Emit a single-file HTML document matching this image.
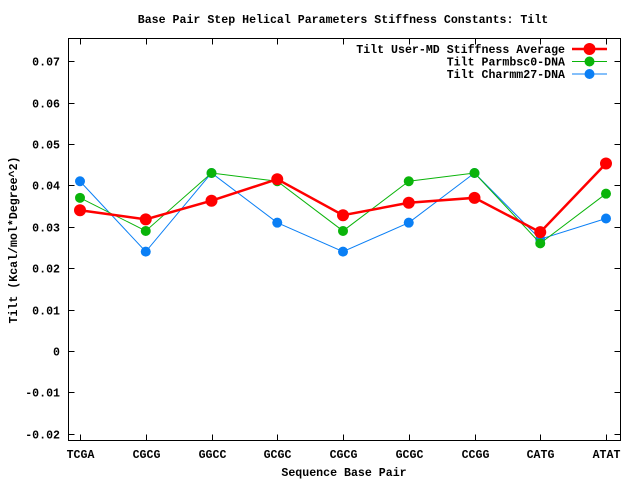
<!DOCTYPE html>
<html><head><meta charset="utf-8"><style>
body{margin:0;background:#fff}
svg text{font-family:"Liberation Mono",monospace;font-weight:bold;font-size:11.6px;fill:#000}
</style></head><body>
<svg width="640" height="480" xmlns="http://www.w3.org/2000/svg">
<g id="g"></g>
</svg>
<script>
const categories=["TCGA","CGCG","GGCC","GCGC","CGCG","GCGC","CCGG","CATG","ATAT"];
const userMD=[0.0340,0.0318,0.0363,0.0415,0.0328,0.0358,0.0370,0.0287,0.0453];
const parmbsc0=[0.037,0.029,0.043,0.041,0.029,0.041,0.043,0.026,0.038];
const charmm27=[0.041,0.024,0.043,0.031,0.024,0.031,0.043,0.027,0.032];
const yTicks=[0.07,0.06,0.05,0.04,0.03,0.02,0.01,0,-0.01,-0.02];
const yLabels=["0.07","0.06","0.05","0.04","0.03","0.02","0.01","0","-0.01","-0.02"];
const L=68.5,R=620.5,T=38.5,B=440.5;
const xs=i=>80+i*65.75;
const ys=v=>351-v*4140;
const g=document.getElementById('g');
const NS="http://www.w3.org/2000/svg";
function mk(tag,attrs,parent){const e=document.createElementNS(NS,tag);for(const k in attrs)e.setAttribute(k,attrs[k]);(parent||g).appendChild(e);return e;}
// frame
let fr=mk('rect',{x:L,y:T,width:R-L,height:B-T,fill:'none',stroke:'#000','stroke-width':1});


yTicks.forEach((v,i)=>{
  const y=Math.round(ys(v))+0.5;
  const t=mk('path',{d:`M${L} ${y}h6M${R} ${y}h-6`,stroke:'#000'});
  
  
  const tx=mk('text',{x:60,y:y+4,'text-anchor':'end'});tx.textContent=yLabels[i];
  
  
});
categories.forEach((c,i)=>{
  const x=Math.round(xs(i))+0.5;
  const t=mk('path',{d:`M${x} ${B}v-6M${x} ${T}v6`,stroke:'#000'});
  
  
  const tx=mk('text',{x:x,y:458,'text-anchor':'middle'});tx.textContent=c;
  
  
});
function series(data,color,w,r,name){
  const sg=mk('g',{});
  
  
  mk('polyline',{points:data.map((v,i)=>xs(i)+','+ys(v)).join(' '),fill:'none',stroke:color,'stroke-width':w},sg);
  data.forEach((v,i)=>{const c=mk('circle',{cx:xs(i),cy:ys(v),r:r,fill:color},sg);
    
    });
}
series(charmm27,'#0a7ff5',1,5,'series-charmm27');
series(parmbsc0,'#0ab40a',1,5,'series-parmbsc0');
series(userMD,'#ff0000',2.5,6,'series-user-md');
const leg=[["Tilt User-MD Stiffness Average",'#ff0000',2.5,6,49],["Tilt Parmbsc0-DNA",'#0ab40a',1,5,61.5],["Tilt Charmm27-DNA",'#0a7ff5',1,5,74]];
leg.forEach(l=>{
  const lg=mk('g',{});
  
  
  const t=mk('text',{x:565,y:l[4]+4,'text-anchor':'end'},lg);t.textContent=l[0];
  mk('line',{x1:572,x2:607,y1:l[4],y2:l[4],stroke:l[1],'stroke-width':l[2]},lg);
  mk('circle',{cx:589.5,cy:l[4],r:l[3],fill:l[1]},lg);
});
</script>
<svg width="640" height="480" style="position:absolute;left:0;top:0" xmlns="http://www.w3.org/2000/svg">
<text x="343" y="23" text-anchor="middle">Base Pair Step Helical Parameters Stiffness Constants: Tilt</text>
<text x="344" y="476" text-anchor="middle">Sequence Base Pair</text>
<text x="0" y="0" text-anchor="middle" transform="translate(17,240) rotate(-90)">Tilt (Kcal/mol*Degree^2)</text>
</svg>
</body></html>
